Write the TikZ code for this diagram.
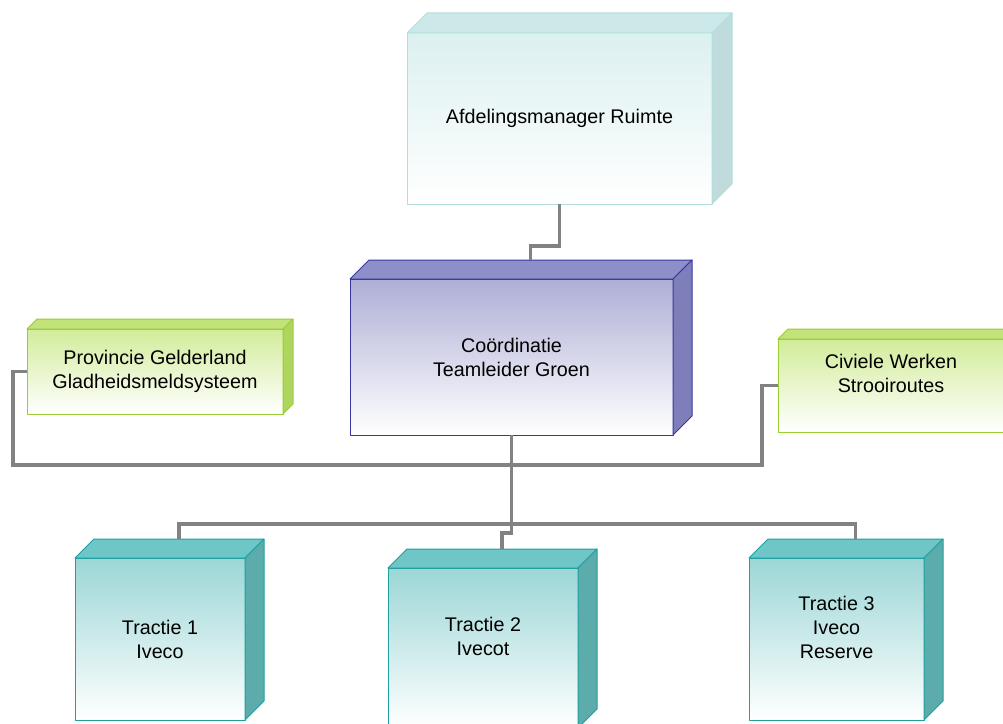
\documentclass[tikz,border=0pt]{standalone}
\usepackage{fontspec}
\setmainfont{Liberation Sans}
\definecolor{frontmgr}{HTML}{DCF0F0}
\definecolor{topmgr}{HTML}{CDE8E8}
\definecolor{sidemgr}{HTML}{C0DBDB}
\definecolor{linemgr}{HTML}{B2DEDE}
\definecolor{frontcoord}{HTML}{AEAED6}
\definecolor{topcoord}{HTML}{8E8EC8}
\definecolor{sidecoord}{HTML}{7E7EBA}
\definecolor{linecoord}{HTML}{38389E}
\definecolor{frontlime}{HTML}{D2EC9A}
\definecolor{toplime}{HTML}{C2E27A}
\definecolor{sidelime}{HTML}{AED65E}
\definecolor{linelime}{HTML}{9ACD32}
\definecolor{frontteal}{HTML}{9CD6D6}
\definecolor{topteal}{HTML}{6EC6C6}
\definecolor{sideteal}{HTML}{5CACAC}
\definecolor{lineteal}{HTML}{1EA0A0}
\definecolor{wiregray}{HTML}{828282}
\tikzset{
	box/.style={line width=0.75pt, outer sep=0pt, inner sep=0pt, align=center, font=\fontsize{14.8pt}{18pt}\selectfont},
	boxsize/.style 2 args={minimum width=#1*0.75pt, minimum height=#2*0.75pt},
	mgrbox/.style={box, draw=linemgr, top color=frontmgr, bottom color=white},
	coordbox/.style={box, draw=linecoord, top color=frontcoord, bottom color=white},
	limebox/.style={box, draw=linelime, top color=frontlime, bottom color=white},
	tealbox/.style={box, draw=lineteal, top color=frontteal, bottom color=white},
	wire/.style={draw=wiregray, line width=2.4pt, line cap=butt, line join=miter},
}
\begin{document}
\begin{tikzpicture}[x=0.75pt, y=-0.75pt, line join=round, line cap=round]
	\clip (0,0) rectangle (1003,724);
	\node[mgrbox, boxsize={305}{171}] (mgr) at (559.5,118.5) {Afdelingsmanager Ruimte};
	\node[coordbox, boxsize={323}{156}] (coord) at (511.5,357) {Coördinatie\\Teamleider Groen};
	\node[limebox, boxsize={256}{85}] (prov) at (155,371.5) {Provincie Gelderland\\Gladheidsmeldsysteem};
	\node[limebox, boxsize={226}{93}] (civ) at (891,385.5) {Civiele Werken\\Strooiroutes\\\mbox{}};
	\node[tealbox, boxsize={170}{162}] (t1) at (160,639) {Tractie 1\\Iveco};
	\node[tealbox, boxsize={190}{160}] (t2) at (483,648) {Tractie 2\\Ivecot\\\mbox{}};
	\node[tealbox, boxsize={175}{162}] (t3) at (836.5,639) {Tractie 3\\Iveco\\Reserve\\\mbox{}};
	
	\foreach \n/\d/\c in {mgr/20/mgr,coord/19/coord,prov/10/lime,civ/10/lime,t1/19/teal,t2/19/teal,t3/19/teal}{
		\filldraw[draw=line\c, fill=top\c, line width=0.75pt] (\n.north west) -- ++(\d,-\d) -- ([shift={(\d,-\d)}]\n.north east) -- (\n.north east) -- cycle;
		\filldraw[draw=line\c, fill=side\c, line width=0.75pt] (\n.north east) -- ++(\d,-\d) -- ([shift={(\d,-\d)}]\n.south east) -- (\n.south east) -- cycle;
	}
	
	\path
	([shift={(19,-19)}]coord.north) coordinate (coordtop)
	([shift={(19,-19)}]t1.north) coordinate (t1top)
	([shift={(19,-19)}]t2.north) coordinate (t2top)
	([shift={(19,-19)}]t3.north) coordinate (t3top)
	(762,465) coordinate (bus)
	;
	
	\draw[wire] (mgr.south) -- ++(0,42) -| (coordtop);
	\draw[wire] (prov.west) -- ++(-14,0) |- (bus) |- (civ.west);
	\draw[wire] (coord.south) -- ++(0,98) -| (t2top);
	\draw[wire] (t1top) -- ++(0,-15) -| (t3top);
\end{tikzpicture}
\end{document}
